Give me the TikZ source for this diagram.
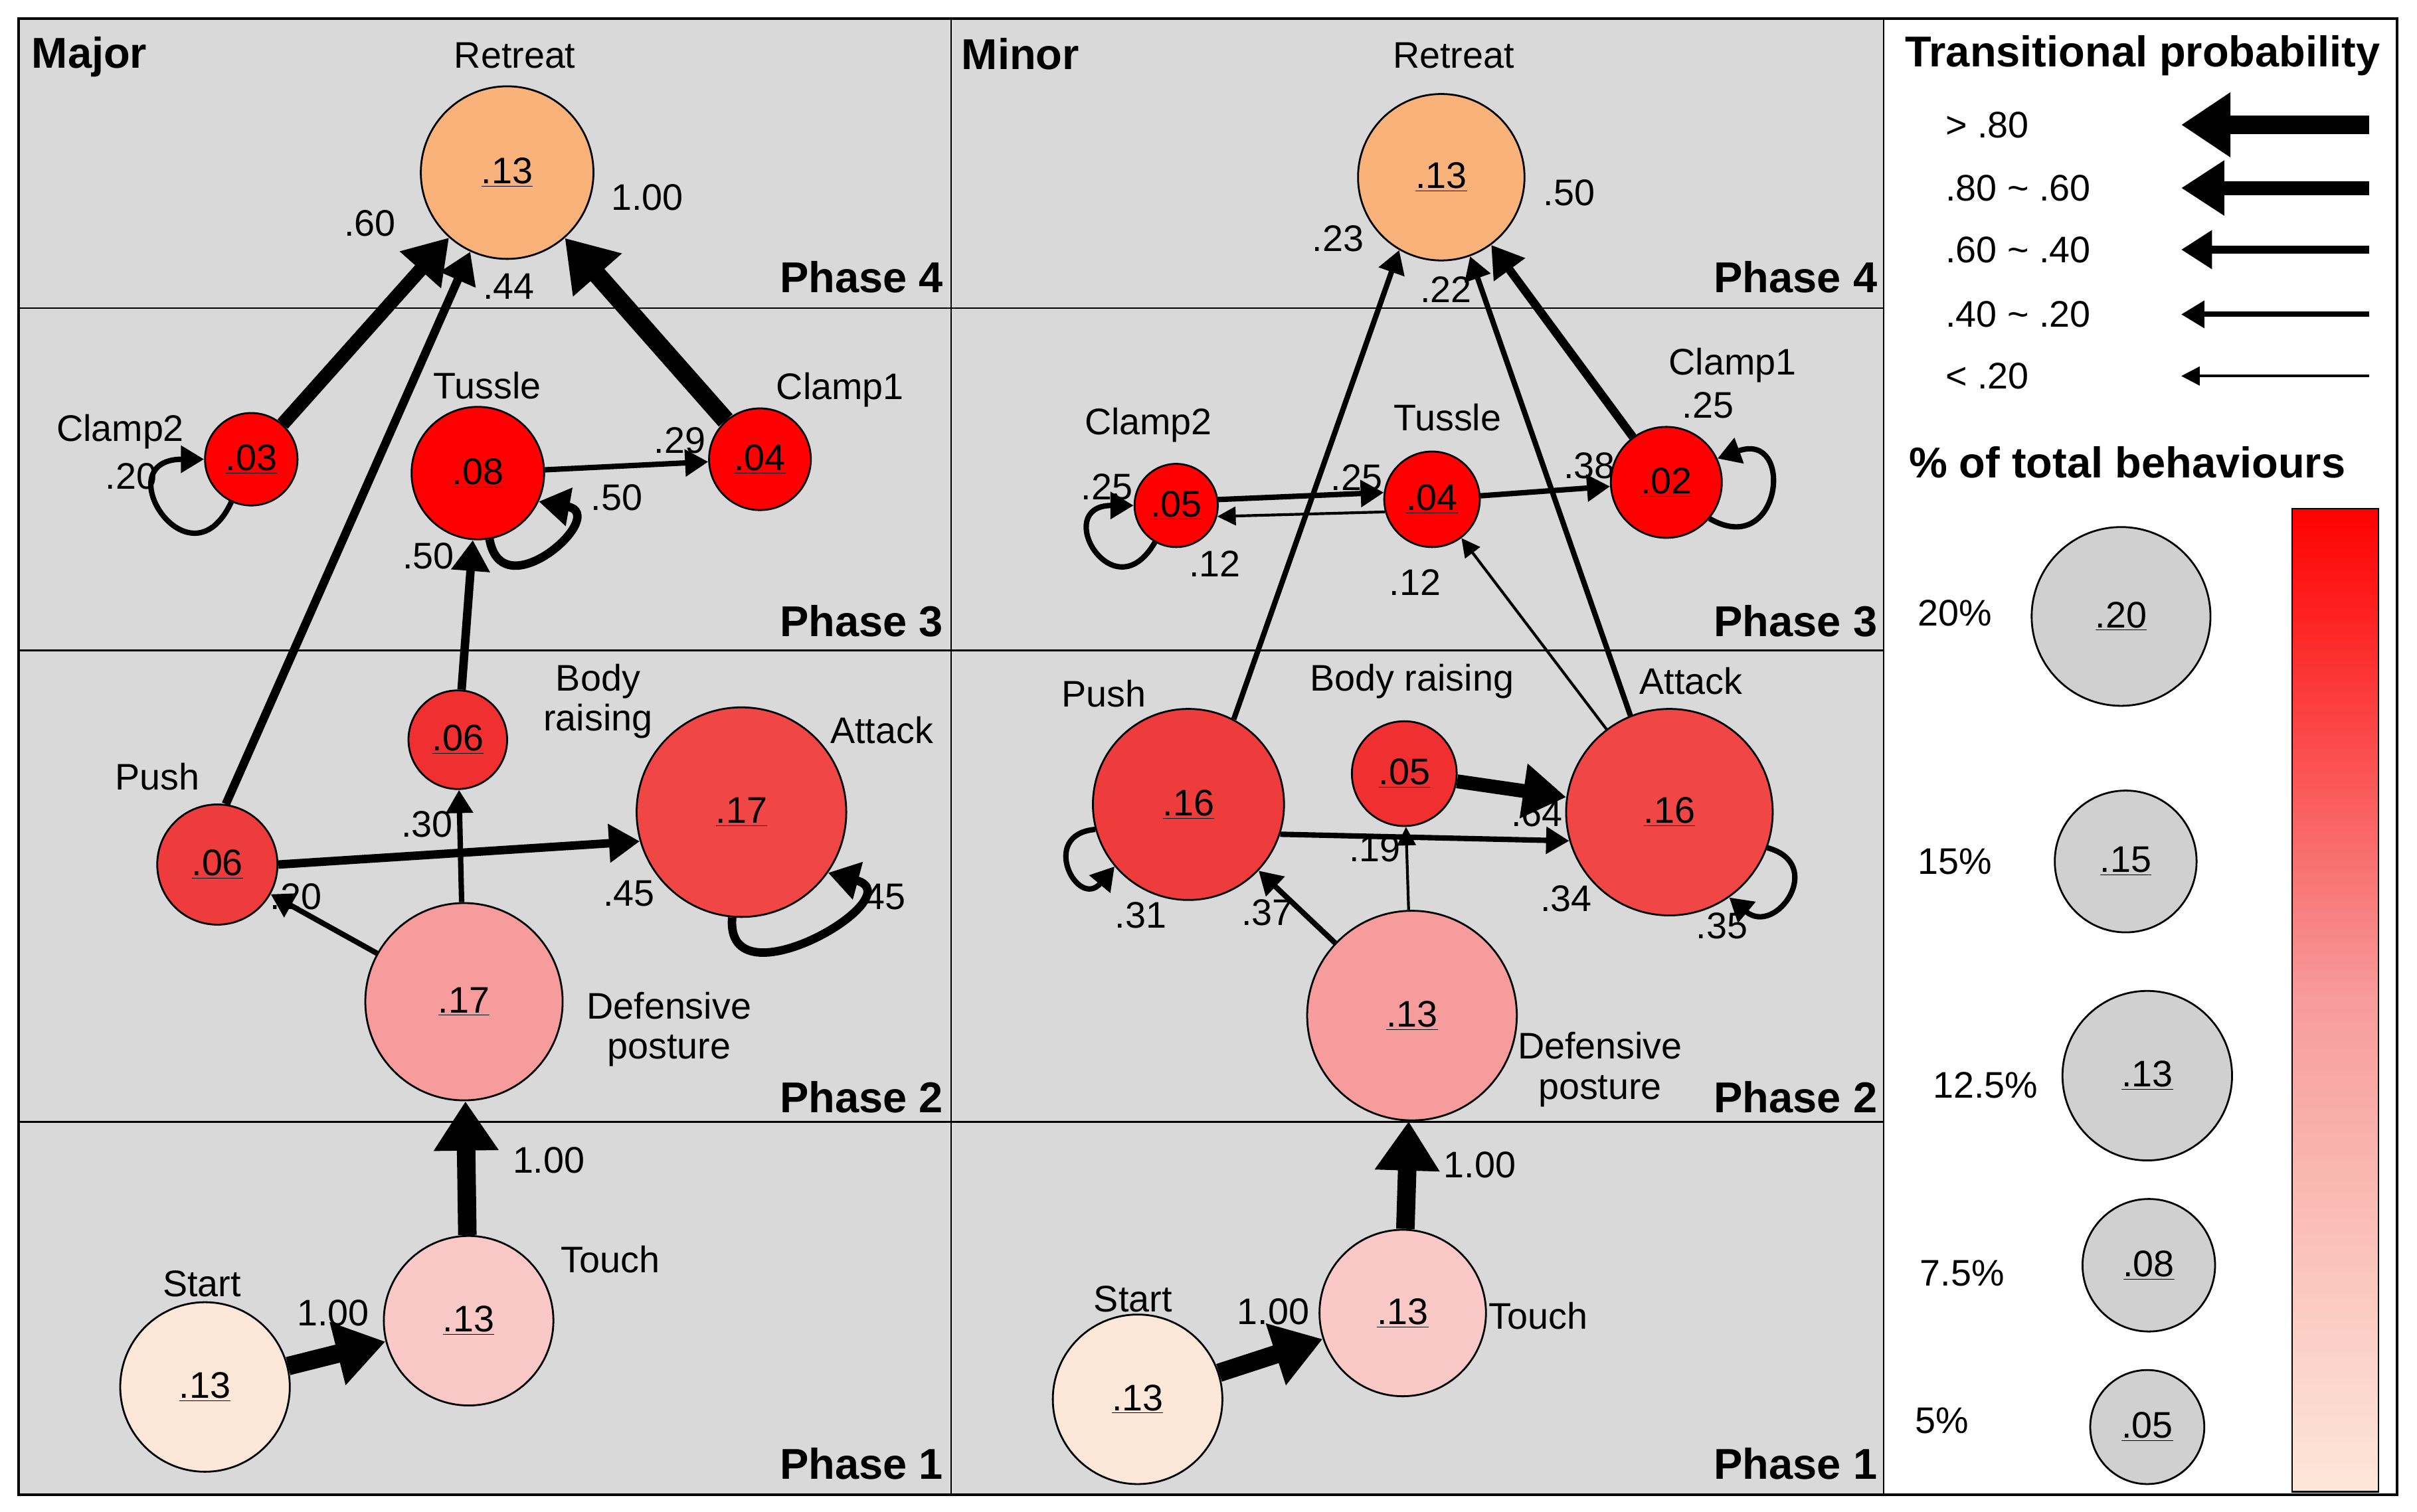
\documentclass[tikz,border=0pt]{standalone}
\usepackage{fontspec}
\setmainfont{Liberation Sans}
\usetikzlibrary{arrows.meta}
\begin{document}
\begin{tikzpicture}[x=1pt,y=-1pt,
 lab/.style={font=\fontsize{24}{26}\selectfont,align=center,inner sep=0},
 ttl/.style={font=\bfseries\fontsize{28}{30}\selectfont,inner sep=0},
 nd/.style={circle,draw=black,line width=1.2pt,inner sep=0,font=\fontsize{24}{26}\selectfont},
 w5/.style={line width=12pt,-{Triangle[length=32pt,width=40pt]}},
 w4/.style={line width=9pt,-{Triangle[length=28pt,width=34pt]}},
 w3/.style={line width=5.5pt,-{Triangle[length=20pt,width=24pt]}},
 w2/.style={line width=3.5pt,-{Triangle[length=15pt,width=17pt]}},
 w1/.style={line width=1.8pt,-{Triangle[length=12pt,width=12pt]}}]
\definecolor{bg}{HTML}{D9D9D9}
\definecolor{cret}{HTML}{F9B27A}
\definecolor{cred}{HTML}{FF0000}
\definecolor{cbody}{HTML}{F03030}
\definecolor{catt}{HTML}{F04646}
\definecolor{cpush}{HTML}{EE3B3B}
\definecolor{cdef}{HTML}{F79C9C}
\definecolor{ctouch}{HTML}{FBC8C8}
\definecolor{cstart}{HTML}{FDE7D8}
\definecolor{cgray}{HTML}{D0D0D0}
\useasboundingbox (0,0) rectangle (1568,981);
\fill[white] (0,0) rectangle (1568,981);
\fill[bg] (12,12) rectangle (1222,970);
\draw[line width=1pt] (12,200) -- (1222,200) (12,422) -- (1222,422) (12,728) -- (1222,728) (617,12) -- (617,970) (1222,12) -- (1222,970);
\draw[line width=1.5pt] (12,12) rectangle (1555,970);
% titles
\node[ttl] at (58,37) {Major};
\node[ttl] at (662,35) {Minor};
\foreach \x in {0,606}{
 \node[ttl,anchor=east] at (612+\x,180) {Phase 4};
 \node[ttl,anchor=east] at (612+\x,403) {Phase 3};
 \node[ttl,anchor=east] at (612+\x,712) {Phase 2};
 \node[ttl,anchor=east] at (612+\x,950) {Phase 1};}
% ---------- Major
\node[nd,fill=cret,minimum size=112pt] (Mret) at (329,112) {\underline{.13}};
\node[nd,fill=cred,minimum size=60pt] (Mc2) at (163,298) {\underline{.03}};
\node[nd,fill=cred,minimum size=86pt] (Mtu) at (310,307) {\underline{.08}};
\node[nd,fill=cred,minimum size=66pt] (Mc1) at (493,298) {\underline{.04}};
\node[nd,fill=cbody,minimum size=64pt] (Mbr) at (297,480) {\underline{.06}};
\node[nd,fill=catt,minimum size=136pt] (Mat) at (481,527) {\underline{.17}};
\node[nd,fill=cpush,minimum size=78pt] (Mpu) at (141,561) {\underline{.06}};
\node[nd,fill=cdef,minimum size=128pt] (Mde) at (301,650) {\underline{.17}};
\node[nd,fill=ctouch,minimum size=110pt] (Mto) at (304,857) {\underline{.13}};
\node[nd,fill=cstart,minimum size=110pt] (Mst) at (133,900) {\underline{.13}};
\node[lab] at (334,36) {Retreat};
\node[lab] at (78,280) {Clamp2};
\node[lab] at (316,250) {Tussle};
\node[lab] at (545,253) {Clamp1};
\node[lab] at (388,455) {Body\\raising};
\node[lab] at (572,474) {Attack};
\node[lab] at (102,504) {Push};
\node[lab] at (434,668) {Defensive\\posture};
\node[lab] at (396,817) {Touch};
\node[lab] at (131,833) {Start};
\draw[w5] (Mst) -- (Mto);
\draw[w5] (Mto) -- (Mde);
\draw[w2] (Mde) -- (Mpu);
\draw[w2] (Mde) -- (Mbr);
\draw[w3] (Mpu.0) -- (Mat.196);
\draw[w3] (Mat.-95) to[out=-95,in=-15,looseness=2.2] (Mat.-35);
\draw[w3] (Mbr) -- (Mtu);
\draw[w3] (Mtu.-80) to[out=-80,in=-10,looseness=3] (Mtu.-25);
\draw[w2] (Mtu) -- (Mc1);
\draw[w3] (Mpu.82) -- (Mret.-115);
\draw[w4] (Mc2) -- (Mret);
\draw[w5] (Mc1) -- (Mret);
\draw[w2] (Mc2.-115) to[out=-115,in=180,looseness=5] (Mc2.180);
\node[lab] at (216,852) {1.00};
\node[lab] at (356,753) {1.00};
\node[lab] at (192,582) {.20};
\node[lab] at (277,535) {.30};
\node[lab] at (408,580) {.45};
\node[lab] at (571,582) {.45};
\node[lab] at (278,361) {.50};
\node[lab] at (400,323) {.50};
\node[lab] at (441,286) {.29};
\node[lab] at (330,186) {.44};
\node[lab] at (240,145) {.60};
\node[lab] at (420,128) {1.00};
\node[lab] at (85,309) {.20};
% ---------- Minor
\node[nd,fill=cret,minimum size=108pt] (Nret) at (935,115) {\underline{.13}};
\node[nd,fill=cred,minimum size=54pt] (Nc2) at (763,328) {\underline{.05}};
\node[nd,fill=cred,minimum size=62pt] (Ntu) at (929,324) {\underline{.04}};
\node[nd,fill=cred,minimum size=72pt] (Nc1) at (1081,313) {\underline{.02}};
\node[nd,fill=cpush,minimum size=124pt] (Npu) at (771,522) {\underline{.16}};
\node[nd,fill=cbody,minimum size=68pt] (Nbr) at (911,502) {\underline{.05}};
\node[nd,fill=catt,minimum size=134pt] (Nat) at (1083,527) {\underline{.16}};
\node[nd,fill=cdef,minimum size=136pt] (Nde) at (916,659) {\underline{.13}};
\node[nd,fill=ctouch,minimum size=108pt] (Nto) at (910,852) {\underline{.13}};
\node[nd,fill=cstart,minimum size=110pt] (Nst) at (738,908) {\underline{.13}};
\node[lab] at (943,36) {Retreat};
\node[lab] at (745,276) {Clamp2};
\node[lab] at (939,271) {Tussle};
\node[lab] at (1124,237) {Clamp1};
\node[lab] at (716,450) {Push};
\node[lab] at (916,442) {Body raising};
\node[lab] at (1097,442) {Attack};
\node[lab] at (1038,694) {Defensive\\posture};
\node[lab] at (998,854) {Touch};
\node[lab] at (735,843) {Start};
\draw[w5] (Nst) -- (Nto);
\draw[w5] (Nto) -- (Nde);
\draw[w2] (Nde) -- (Npu);
\draw[w1] (Nde) -- (Nbr);
\draw[w2] (Npu.-18) -- (Nat.196);
\draw[w2] (Npu.195) to[out=185,in=-130,looseness=3.5] (Npu.-140);
\draw[w4] (Nbr) -- (Nat);
\draw[w2] (Nat.-20) to[out=-15,in=-40,looseness=2.5] (Nat.-55);
\draw[w1] (Nat) -- (Ntu);
\draw[w2] (Nat.112) -- (Nret.-70);
\draw[w2] (Npu.62) -- (Nret.-120);
\draw[w3] (Nc1) -- (Nret);
\draw[w2] (Nc2.8) -- (Ntu.172);
\draw[w1] (Ntu.195) -- (Nc2.-15);
\draw[w2] (Ntu) -- (Nc1);
\draw[w2] (Nc2.-120) to[out=-120,in=180,looseness=5] (Nc2.180);
\draw[w2] (Nc1.-40) to[out=-30,in=20,looseness=3.5] (Nc1.25);
\node[lab] at (826,851) {1.00};
\node[lab] at (960,756) {1.00};
\node[lab] at (822,592) {.37};
\node[lab] at (892,551) {.19};
\node[lab] at (1016,583) {.34};
\node[lab] at (740,594) {.31};
\node[lab] at (997,528) {.64};
\node[lab] at (1117,601) {.35};
\node[lab] at (918,378) {.12};
\node[lab] at (938,188) {.22};
\node[lab] at (868,155) {.23};
\node[lab] at (1018,125) {.50};
\node[lab] at (880,310) {.25};
\node[lab] at (788,366) {.12};
\node[lab] at (1031,302) {.38};
\node[lab] at (718,316) {.25};
\node[lab] at (1108,263) {.25};
% ---------- Legend
\node[ttl] at (1390,36) {Transitional probability};
\foreach \y/\t/\s in {81/{> .80}/w5,122/{.80 \textasciitilde{} .60}/w4,162/{.60 \textasciitilde{} .40}/w3,204/{.40 \textasciitilde{} .20}/w2,244/{< .20}/w1}{
 \node[lab,anchor=west] at (1262,\y) {\t};
 \coordinate (a\y) at (1537,\y); \coordinate (b\y) at (1415,\y);
 \draw[\s] (a\y) -- (b\y);}
\node[ttl] at (1380,300) {\% of total behaviours};
\node[nd,fill=cgray,minimum size=116pt] (L1) at (1376,400) {\underline{.20}};
\node[nd,fill=cgray,minimum size=92pt] (L2) at (1379,559) {\underline{.15}};
\node[nd,fill=cgray,minimum size=110pt] (L3) at (1393,698) {\underline{.13}};
\node[nd,fill=cgray,minimum size=86pt] (L4) at (1394,821) {\underline{.08}};
\node[nd,fill=cgray,minimum size=74pt] (L5) at (1393,926) {\underline{.05}};
\node[lab] at (1268,398) {20\%};
\node[lab] at (1268,559) {15\%};
\node[lab] at (1288,704) {12.5\%};
\node[lab] at (1273,826) {7.5\%};
\node[lab] at (1260,922) {5\%};
\shade[top color=red, bottom color=cstart, middle color=cdef] (1487,330) rectangle (1543,968);
\draw[line width=1pt] (1487,330) rectangle (1543,968);
\end{tikzpicture}
\end{document}
